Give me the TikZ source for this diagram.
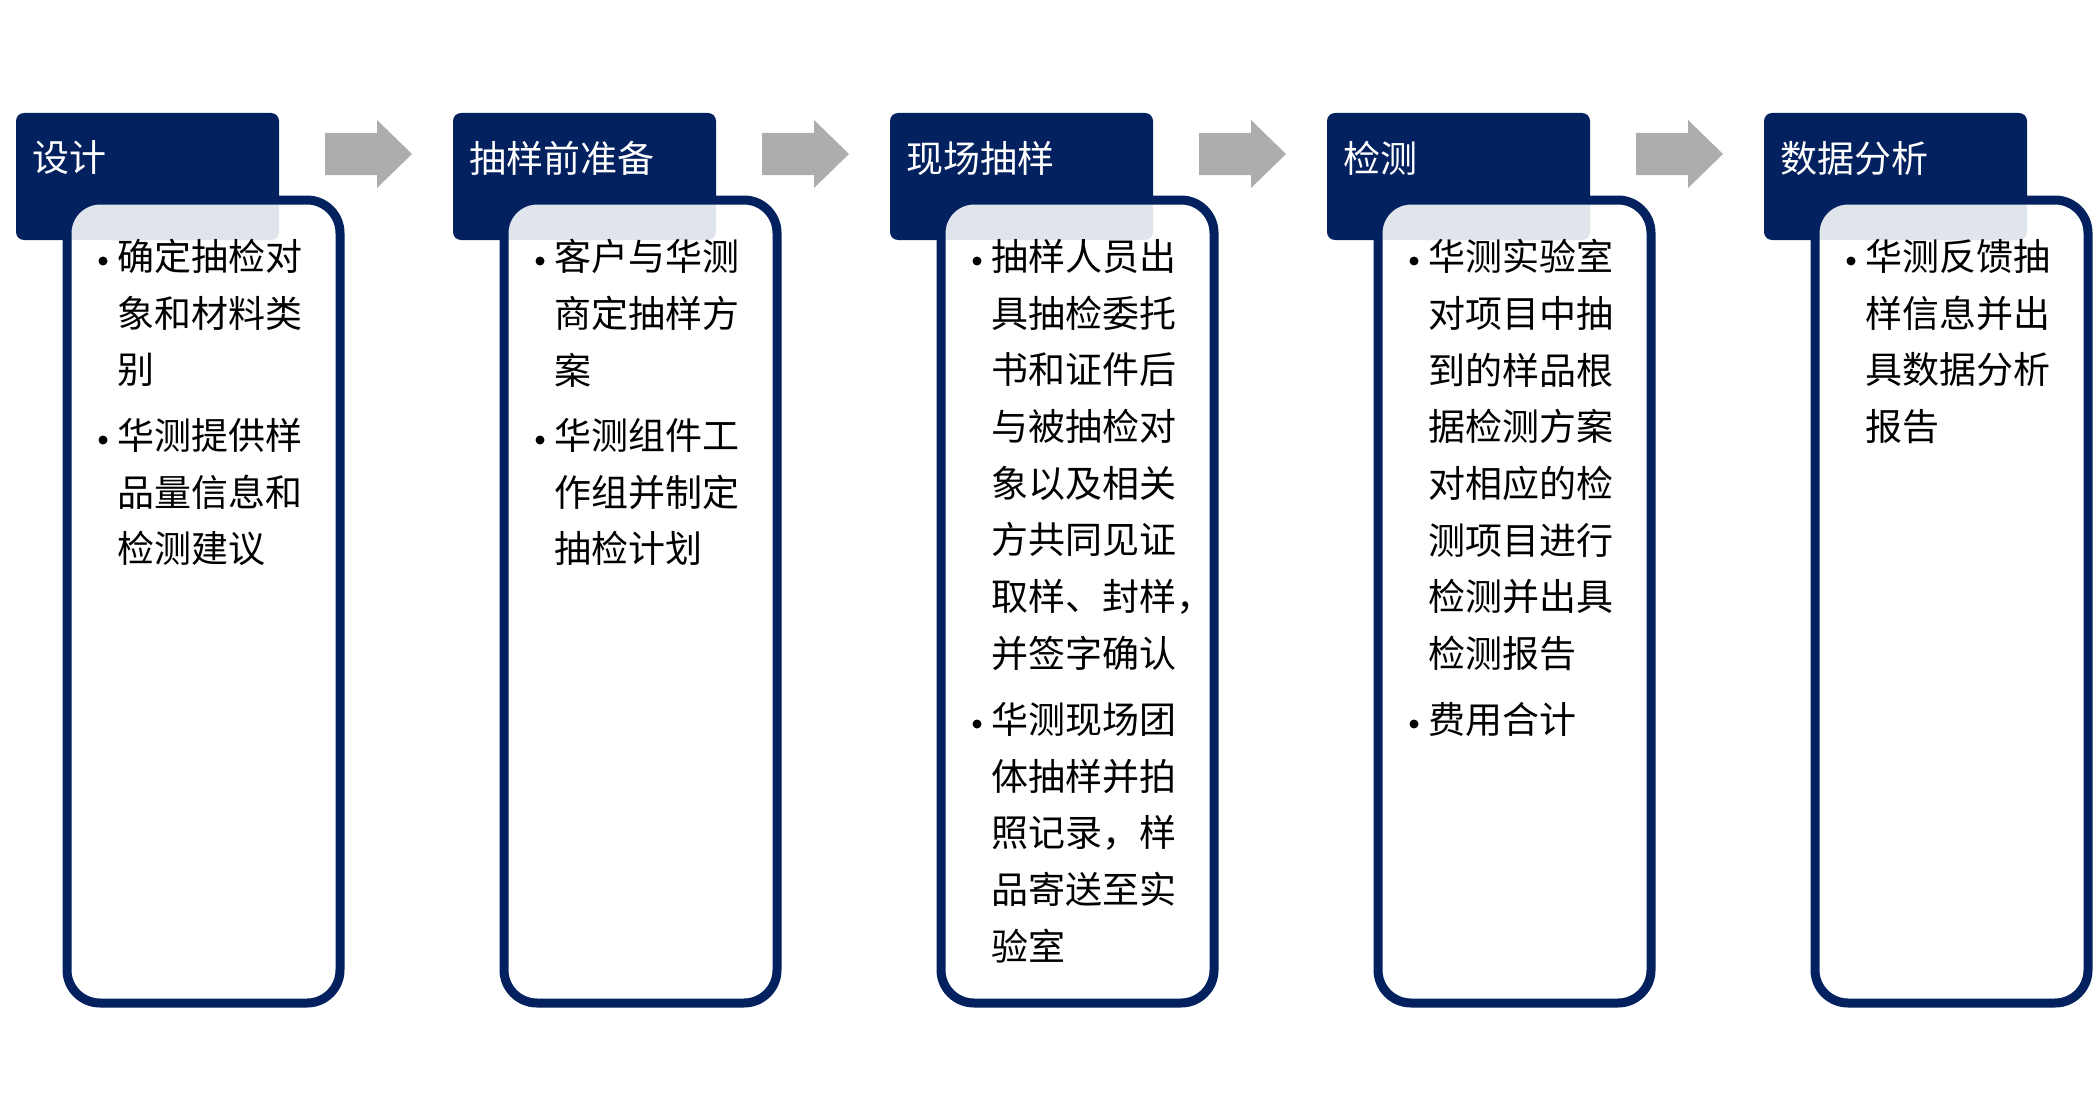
\documentclass[tikz,border=0pt]{standalone}
\usepackage{fontspec}
\setmainfont{Noto Sans CJK SC}
\definecolor{navy}{HTML}{03215F}
\definecolor{arrowgray}{HTML}{ADADAD}
\tikzset{
  titlebox/.style={fill=navy,rounded corners=8pt},
  bodybox/.style={draw=navy,line width=9pt,fill=white,fill opacity=0.88,rounded corners=33pt},
  ttl/.style={text=white,anchor=west,inner sep=0pt,font=\fontsize{37}{44}\selectfont},
  para/.style={anchor=north west,inner sep=0pt,align=left,font=\fontsize{37}{56.7}\selectfont},
  bul/.style={circle,fill=black,inner sep=0pt,minimum size=9pt}
}
\begin{document}
\begin{tikzpicture}[x=1pt,y=-1pt]
\useasboundingbox (0,0) rectangle (2093,1113);
\foreach \i/\t in {0/设计,1/抽样前准备,2/现场抽样,3/检测,4/数据分析}{
  \pgfmathsetmacro{\dx}{437*\i}
  \fill[titlebox] (16+\dx,113) rectangle (279+\dx,240);
  \node[ttl] (t\i) at (32+\dx,158) {\t};
  \draw[bodybox] (67+\dx,200) rectangle (340+\dx,1003);
}
\foreach \i in {0,1,2,3}{
  \pgfmathsetmacro{\dx}{437*\i}
  \fill[arrowgray] (325+\dx,133) -- (377+\dx,133) -- (377+\dx,120) -- (412+\dx,154) -- (377+\dx,188) -- (377+\dx,175) -- (325+\dx,175) -- cycle;
}
\newcommand{\bp}[4]{% name, x, y, text
  \node[bul] (#1b) at (#2-14,#3+22) {};
  \node[para] (#1) at (#2,#3) {#4};}
\bp{a1}{117}{239}{确定抽检对\\象和材料类\\别}
\bp{a2}{117}{418}{华测提供样\\品量信息和\\检测建议}
\bp{b1}{554}{239}{客户与华测\\商定抽样方\\案}
\bp{b2}{554}{418}{华测组件工\\作组并制定\\抽检计划}
\bp{c1}{991}{239}{抽样人员出\\具抽检委托\\书和证件后\\与被抽检对\\象以及相关\\方共同见证\\取样、封样，\\并签字确认}
\bp{c2}{991}{702}{华测现场团\\体抽样并拍\\照记录，样\\品寄送至实\\验室}
\bp{d1}{1428}{239}{华测实验室\\对项目中抽\\到的样品根\\据检测方案\\对相应的检\\测项目进行\\检测并出具\\检测报告}
\bp{d2}{1428}{702}{费用合计}
\bp{e1}{1865}{239}{华测反馈抽\\样信息并出\\具数据分析\\报告}
\end{tikzpicture}
\end{document}
